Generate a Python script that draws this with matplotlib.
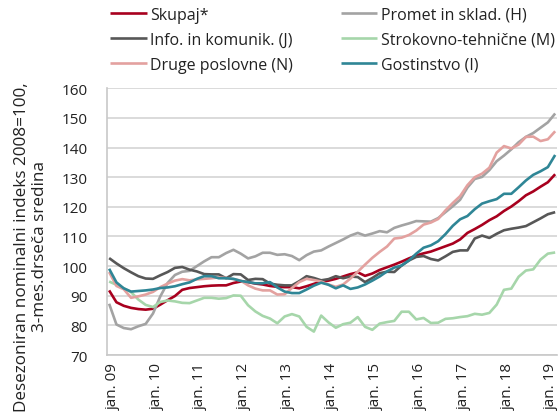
import matplotlib
matplotlib.use("Agg")
import matplotlib.pyplot as plt
import matplotlib.transforms as mtransforms
import numpy as np
import pandas as pd

plt.rcParams["font.family"] = ["Open Sans", "DejaVu Sans"]

# bimonthly readings, jan. 2009 - nov. 2018 ... mar. 2019
dates = pd.date_range("2009-01-01", periods=62, freq="2MS")

skupaj = [
    91.8, 87.8, 86.6, 85.9, 85.5, 85.3, 85.6, 87.0, 88.5, 89.9,
    92.0, 92.6, 92.9, 93.2, 93.4, 93.5, 93.5, 94.3, 94.8, 94.6,
    94.1, 93.8, 93.3, 93.0, 92.9, 92.9, 92.5, 93.2, 94.0, 94.8,
    95.1, 95.7, 96.5, 97.3, 97.9, 96.7, 97.5, 98.7, 99.6, 100.5,
    101.5, 102.6, 103.6, 104.3, 104.9, 105.8, 106.7, 107.6, 109.0, 111.2,
    112.5, 113.9, 115.5, 116.8, 118.6, 120.1, 121.9, 123.9, 125.2, 126.8,
    128.3, 131.0,
]
promet = [
    87.3, 80.3, 79.1, 78.7, 79.7, 80.5, 84.0, 89.8, 94.3, 97.0,
    98.1, 98.4, 100.0, 101.6, 103.0, 103.0, 104.4, 105.5, 104.2, 102.6,
    103.3, 104.5, 104.5, 103.8, 104.0, 103.4, 102.0, 103.7, 104.9, 105.3,
    106.6, 107.8, 109.0, 110.3, 111.2, 110.3, 111.0, 111.8, 111.4, 112.9,
    113.7, 114.4, 115.2, 115.1, 115.0, 116.2, 118.2, 120.2, 122.4, 126.5,
    129.4, 130.1, 132.4, 135.4, 137.3, 139.4, 141.8, 143.6, 144.9, 146.7,
    148.5, 151.5,
]
info = [
    102.7, 100.9, 99.3, 97.9, 96.6, 95.8, 95.7, 96.9, 98.0, 99.4,
    99.7, 98.8, 98.2, 97.3, 97.2, 97.2, 95.9, 97.3, 97.2, 95.3,
    95.7, 95.6, 94.1, 93.7, 93.5, 93.5, 94.9, 96.6, 96.0, 95.2,
    95.6, 96.6, 95.9, 96.5, 96.3, 94.6, 96.0, 97.6, 98.1, 98.0,
    100.2, 101.9, 103.1, 103.4, 102.4, 101.9, 103.3, 104.8, 105.3, 105.3,
    109.3, 110.3, 109.5, 110.9, 112.1, 112.6, 113.0, 113.5, 114.8, 116.1,
    117.5, 118.2,
]
strokovno = [
    94.8, 93.7, 92.5, 91.2, 88.7, 86.9, 86.2, 87.9, 88.4, 88.1,
    87.6, 87.5, 88.4, 89.3, 89.3, 89.0, 89.2, 90.1, 90.0, 86.8,
    84.7, 83.2, 82.3, 80.7, 83.0, 83.8, 83.0, 79.5, 77.9, 83.3,
    81.0, 79.2, 80.4, 80.9, 82.8, 79.5, 78.5, 80.6, 81.1, 81.5,
    84.6, 84.6, 82.0, 82.5, 80.8, 80.9, 82.2, 82.4, 82.8, 83.1,
    83.9, 83.6, 84.2, 87.0, 92.0, 92.4, 96.4, 98.5, 98.9, 102.2,
    104.2, 104.6,
]
druge = [
    98.0, 93.3, 92.2, 89.3, 89.8, 90.4, 91.3, 92.9, 94.1, 95.1,
    95.6, 95.2, 95.5, 95.7, 95.9, 96.2, 96.0, 95.6, 95.1, 93.5,
    92.4, 91.8, 91.8, 90.4, 90.5, 92.6, 94.6, 95.7, 95.3, 94.8,
    93.8, 93.0, 93.8, 95.8, 98.1, 100.5, 102.8, 104.8, 106.6, 109.3,
    109.6, 110.5, 112.0, 114.0, 114.7, 115.9, 118.8, 121.3, 123.6, 127.3,
    130.0, 131.2, 133.2, 138.3, 140.5, 139.7, 141.0, 143.6, 143.7, 142.2,
    142.8, 145.5,
]
gostinstvo = [
    99.1, 94.5, 92.5, 91.4, 91.6, 91.8, 92.1, 92.6, 92.8, 93.2,
    93.9, 94.5, 95.7, 96.6, 96.6, 95.9, 95.9, 95.7, 95.0, 94.6,
    94.2, 94.2, 94.6, 92.8, 91.4, 90.9, 90.9, 92.1, 93.4, 94.4,
    93.7, 92.5, 93.5, 92.3, 92.8, 93.8, 95.1, 96.5, 98.2, 99.5,
    100.2, 101.9, 104.2, 106.2, 107.0, 108.4, 110.8, 113.6, 115.8, 116.9,
    119.2, 121.1, 121.9, 122.6, 124.4, 124.4, 126.6, 128.9, 130.8, 132.0,
    133.4, 137.5,
]

labels = ["Skupaj*", "Promet in sklad. (H)", "Info. in komunik. (J)",
          "Strokovno-tehnične (M)", "Druge poslovne (N)", "Gostinstvo (I)"]
series = [skupaj, promet, info, strokovno, druge, gostinstvo]
colors = ["#a8001e", "#a3a3a3", "#575757", "#a6d6aa", "#e3a19f", "#2f8696"]
tick_years = list(range(2009, 2020))


def month_index(d: pd.Timestamp) -> int:
    return (d.year - 2009) * 12 + d.month - 1


def plotFigure() -> None:
    W, H = 558, 414
    fig = plt.figure(figsize=(W / 100, H / 100), dpi=100)
    ax = fig.add_axes([107.3 / W, 1 - 356 / H, (557 - 107.3) / W, (356 - 89.3) / H])

    x = [month_index(d) for d in dates]
    lines = {}
    for lab, vals, col in zip(labels, series, colors):
        (ln,) = ax.plot(x, vals, color=col, lw=1.9, label=lab, solid_capstyle="butt")
        lines[lab] = ln

    ax.set_xlim(-0.5, 122.5)
    ax.set_ylim(70, 160)
    ax.set_yticks(range(70, 161, 10))
    ax.yaxis.grid(True, color="#d4d4d4", lw=1.2)
    ax.set_axisbelow(True)
    for s in ["top", "right"]:
        ax.spines[s].set_visible(False)
    for s in ["left", "bottom"]:
        ax.spines[s].set_color("#c8c8c8")
        ax.spines[s].set_linewidth(1.2)

    ax.tick_params(axis="y", length=0, pad=14, labelsize=11, colors="#222222")
    ax.tick_params(axis="x", length=0, pad=5, labelsize=11, colors="#222222")
    ax.set_xticks([(y - 2009) * 12 for y in tick_years])
    ax.set_xticklabels([f"jan. {y % 100:02d}" for y in tick_years], rotation=90, va="top")
    offset = mtransforms.ScaledTranslation(4 / 100, 0, fig.dpi_scale_trans)
    for t in ax.get_xticklabels():
        t.set_transform(t.get_transform() + offset)

    fig.text(31 / W, 1 - 247 / H,
             "Desezoniran nominalni indeks 2008=100,\n3-mes.drseča sredina",
             rotation=90, ha="center", va="center", fontsize=12.3,
             multialignment="center", color="#222222", linespacing=1.2)

    order = ["Skupaj*", "Info. in komunik. (J)", "Druge poslovne (N)",
             "Promet in sklad. (H)", "Strokovno-tehnične (M)", "Gostinstvo (I)"]
    fig.legend([lines[o] for o in order], order, ncol=2, loc="upper left",
               bbox_to_anchor=(110 / W, 1 - 8 / H), frameon=False,
               borderpad=0, borderaxespad=0, handlelength=2.3,
               handletextpad=0.2, labelspacing=0.55, columnspacing=3.0,
               fontsize=11.5, labelcolor="#222222")

    fig.savefig("out.png", dpi=100)


plotFigure()
